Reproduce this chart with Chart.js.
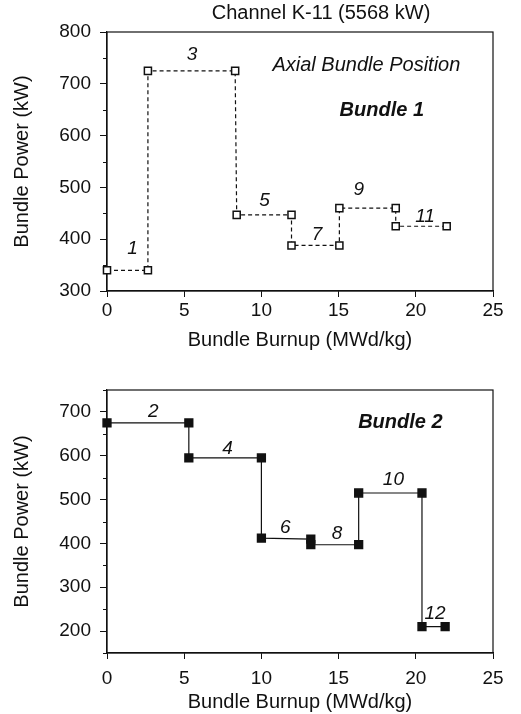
<!DOCTYPE html>
<html>
<head>
<title>Channel K-11</title>
<script src="https://cdn.jsdelivr.net/npm/chart.js"></script>
<style>
  body { margin: 0; background: #fff; }
  .box { position: absolute; left: 0; width: 521px; }
  #top { top: 0; height: 355px; }
  #bottom { top: 355px; height: 359px; }
</style>
</head>
<body>
<div class="box" id="top"><canvas id="c1" width="521" height="355"></canvas></div>
<div class="box" id="bottom"><canvas id="c2" width="521" height="359"></canvas></div>
<script>
// Bundle 1 (dashed, open squares)
const burnup1 = [0, 2.65, 2.65, 8.3, 8.4, 11.95, 11.95, 15.05, 15.05, 18.7, 18.7, 22.0];
const power1  = [340, 340, 725, 725, 447, 447, 388, 388, 460, 460, 425, 425];
const segText1 = ['1', '3', '5', '7', '9', '11'];
const segX1 = [1.66, 5.5, 10.2, 13.6, 16.3, 20.6];
const segY1 = [382, 756, 474, 408, 495, 443];

// Bundle 2 (solid, filled squares)
const burnup2 = [0, 5.3, 5.3, 10.0, 10.0, 13.2, 13.2, 16.3, 16.3, 20.4, 20.4, 21.9];
const power2  = [675, 675, 595, 595, 412, 410, 397, 397, 515, 515, 210, 210];
const segText2 = ['2', '4', '6', '8', '10', '12'];
const segX2 = [3.0, 7.8, 11.55, 14.9, 18.55, 21.25];
const segY2 = [701, 617, 435, 422, 546, 240];

const xTicks = [0, 5, 10, 15, 20, 25];

const FONT = "'Liberation Sans', Arial, sans-serif";
const INK = '#111';

const frame = {
    id: 'frame',
    beforeDatasetsDraw(chart) {
        const a = chart.chartArea, ctx = chart.ctx;
        ctx.save();
        ctx.strokeStyle = INK;
        ctx.lineWidth = 1.2;
        ctx.strokeRect(a.left, a.top, a.right - a.left, a.bottom - a.top);
        // short minor ticks on the y axis (odd multiples of 50)
        const y = chart.scales.y;
        ctx.lineWidth = 1;
        ctx.beginPath();
        y.ticks.forEach(t => {
            if (t.value % 100 !== 0) {
                const py = Math.round(y.getPixelForValue(t.value)) + 0.5;
                ctx.moveTo(a.left - 4, py);
                ctx.lineTo(a.left, py);
            }
        });
        ctx.stroke();
        ctx.restore();
    }
};

function notes(list, title) {
    return {
        id: 'notes',
        afterDraw(chart) {
            const ctx = chart.ctx;
            ctx.save();
            ctx.fillStyle = INK;
            ctx.textAlign = 'center';
            ctx.textBaseline = 'middle';
            list.forEach(n => {
                ctx.font = n.font;
                ctx.fillText(n.text, chart.scales.x.getPixelForValue(n.x), chart.scales.y.getPixelForValue(n.y));
            });
            if (title) {
                ctx.font = '20px ' + FONT;
                ctx.fillText(title, 321, 13);
            }
            ctx.restore();
        }
    };
}

function segNotes(texts, xs, ys) {
    return texts.map((t, i) => ({ text: t, x: xs[i], y: ys[i], font: 'italic 19px ' + FONT }));
}

function makeChart(id, cfg) {
    new Chart(document.getElementById(id), {
        type: 'line',
        data: {
            datasets: [{
                data: cfg.xs.map((x, i) => ({ x: x, y: cfg.ys[i] })),
                borderColor: INK,
                borderWidth: 1.2,
                borderDash: cfg.dash,
                pointStyle: 'rect',
                pointRadius: cfg.radius,
                pointBackgroundColor: cfg.fill,
                pointBorderColor: INK,
                pointBorderWidth: 1.5,
                tension: 0,
                fill: false,
                clip: false
            }]
        },
        options: {
            responsive: false,
            animation: false,
            devicePixelRatio: 1,
            layout: { padding: { left: 0, top: cfg.padTop, right: 28, bottom: 0 } },
            plugins: { legend: { display: false }, tooltip: { enabled: false } },
            scales: {
                x: {
                    type: 'linear',
                    min: xTicks[0],
                    max: xTicks[xTicks.length - 1],
                    ticks: {
                        stepSize: 5, autoSkip: false, maxRotation: 0,
                        color: INK, font: { family: FONT, size: 19 }, padding: cfg.xPad
                    },
                    grid: { display: true, drawOnChartArea: false, drawTicks: true, tickLength: 6, color: INK },
                    border: { display: true, color: INK, width: 1.2 },
                    title: {
                        display: true, text: 'Bundle Burnup (MWd/kg)', color: INK,
                        font: { family: FONT, size: 20 }, padding: { top: 0, bottom: cfg.xTitlePad }
                    },
                    afterFit(s) { s.height = cfg.xHeight; }
                },
                y: {
                    type: 'linear',
                    min: cfg.yMin,
                    max: cfg.yMax,
                    ticks: {
                        stepSize: 50, autoSkip: false,
                        callback: v => (v % 100 === 0 ? v : ''),
                        color: INK, font: { family: FONT, size: 19 }, padding: 9
                    },
                    grid: {
                        display: true, drawOnChartArea: false, drawTicks: true, tickLength: 7,
                        color: INK,
                        tickColor: c => (c.tick && c.tick.value % 100 === 0 ? INK : 'rgba(0,0,0,0)')
                    },
                    border: { display: true, color: INK, width: 1.2 },
                    title: {
                        display: true, text: 'Bundle Power (kW)', color: INK,
                        font: { family: FONT, size: 20 }, padding: { top: 10, bottom: 0 }
                    },
                    afterFit(s) { s.width = 107; }
                }
            }
        },
        plugins: [frame, notes(cfg.notes, cfg.title)]
    });
}

makeChart('c1', {
    xs: burnup1, ys: power1, dash: [4, 3], radius: 5, fill: '#fff',
    padTop: 32, xPad: 2, xTitlePad: 3, xHeight: 64, yMin: 300, yMax: 800,
    title: 'Channel K-11 (5568 kW)',
    notes: segNotes(segText1, segX1, segY1).concat([
        { text: 'Axial Bundle Position', x: 16.8, y: 736, font: 'italic 20px ' + FONT },
        { text: 'Bundle 1', x: 17.8, y: 649, font: 'italic bold 20px ' + FONT }
    ])
});

makeChart('c2', {
    xs: burnup2, ys: power2, dash: [], radius: 5.5, fill: INK,
    padTop: 35, xPad: 8, xTitlePad: 0, xHeight: 61, yMin: 150, yMax: 750,
    title: null,
    notes: segNotes(segText2, segX2, segY2).concat([
        { text: 'Bundle 2', x: 19.0, y: 677, font: 'italic bold 20px ' + FONT }
    ])
});
</script>
</body>
</html>
